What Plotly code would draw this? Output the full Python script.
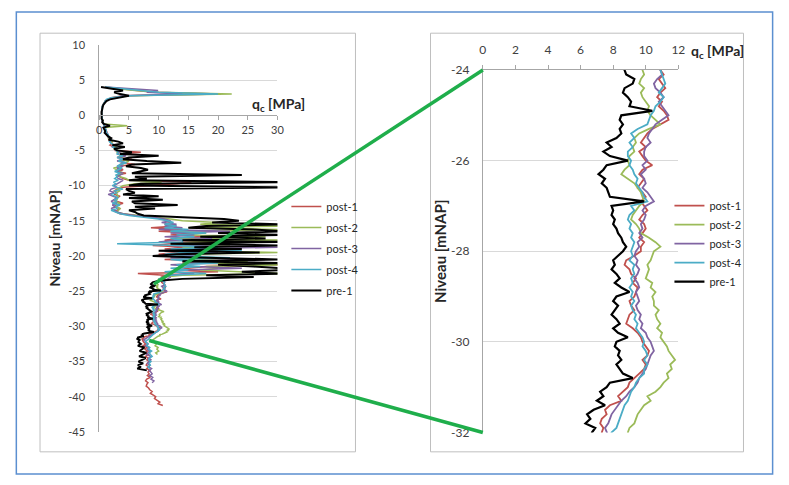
import numpy as np
import plotly.graph_objects as go

# ---------------- data ----------------
series_names = ["post-1", "post-2", "post-3", "post-4", "pre-1"]
series_colors = ["#C0504D", "#9BBB59", "#8064A2", "#4BACC6", "#000000"]

# depth sampling (m NAP)
depth_upper = np.linspace(4.0, -23.75, 112)   # 0.25 m steps
depth_zoom = np.linspace(-24.0, -32.0, 81)    # 0.1 m steps
depth_lower = np.linspace(-32.25, -41.25, 37) # 0.25 m steps

# cone resistance qc [MPa]
post1_upper = [
    1.0, 4.0, 7.0, 9.0, 20.5, 4.0, 2.0, 1.5,
    1.0, 0.8, 0.6, 0.5, 0.5, 0.4, 0.4, 0.4,
    0.4, 0.4, 0.5, 0.5, 0.6, 0.7, 0.8, 0.9,
    1.0, 1.1, 1.3, 1.2, 1.5, 1.8, 1.6, 2.0,
    2.2, 1.8, 2.5, 3.0, 2.6, 7.0, 3.5, 4.0,
    3.0, 5.5, 3.5, 4.0, 6.0, 3.0, 3.5, 4.0,
    3.0, 4.5, 3.0, 3.5, 4.0, 5.0, 15.5, 13.0,
    9.0, 4.0, 3.0, 2.5, 3.0, 2.5, 3.5, 3.0,
    2.5, 3.0, 4.0, 3.0, 2.5, 3.5, 3.0, 2.8,
    3.5, 6.0, 9.0, 10.5, 11.5, 12.0, 11.0, 13.0,
    8.7, 14.0, 10.0, 16.0, 12.0, 18.0, 13.0, 11.0,
    22.0, 12.0, 9.0, 15.0, 11.0, 20.0, 13.0, 10.0,
    12.0, 16.0, 11.0, 23.0, 14.0, 30.5, 18.0, 15.0,
    13.0, 20.0, 6.5, 11.0, 10.5, 11.0, 10.5, 10.5,
]
post2_upper = [
    1.0, 3.0, 6.0, 10.0, 22.3, 5.0, 2.5, 1.5,
    1.0, 0.8, 0.6, 0.5, 0.5, 0.4, 0.4, 0.4,
    0.4, 0.5, 0.5, 0.6, 0.6, 0.8, 4.7, 1.0,
    1.0, 1.2, 1.1, 1.4, 1.6, 1.5, 1.9, 2.2,
    2.0, 2.4, 2.8, 2.5, 3.2, 3.0, 4.0, 3.5,
    4.0, 3.5, 5.0, 4.5, 3.5, 4.0, 2.4, 3.0,
    3.5, 4.0, 3.0, 3.5, 4.5, 5.0, 10.5, 6.0,
    4.0, 3.5, 3.0, 3.5, 2.8, 3.0, 3.2, 2.8,
    3.0, 2.6, 3.4, 3.0, 2.8, 3.5, 3.2, 3.0,
    4.0, 7.0, 10.0, 12.0, 14.0, 20.0, 17.0, 31.0,
    15.0, 31.0, 12.0, 18.0, 14.0, 28.0, 13.0, 31.0,
    16.0, 12.0, 22.0, 14.0, 18.0, 11.0, 30.5, 15.0,
    13.0, 20.0, 14.0, 25.0, 16.0, 31.0, 18.0, 20.0,
    17.0, 24.0, 31.0, 14.0, 11.0, 10.0, 9.8, 9.7,
]
post3_upper = [
    1.0, 6.0, 9.9, 8.0, 14.0, 4.0, 2.5, 1.5,
    1.0, 0.8, 0.6, 0.5, 0.5, 0.4, 0.4, 0.4,
    0.4, 0.4, 0.5, 0.5, 0.6, 0.7, 0.8, 0.9,
    1.0, 1.1, 1.3, 1.5, 1.4, 1.7, 2.0, 1.8,
    2.0, 2.5, 2.2, 2.8, 3.0, 3.5, 3.0, 4.5,
    3.5, 4.0, 3.0, 4.5, 3.5, 4.0, 3.0, 3.5,
    3.0, 4.0, 3.5, 3.0, 3.2, 4.0, 3.5, 3.0,
    2.5, 3.0, 2.0, 1.8, 2.5, 1.5, 2.2, 3.0,
    2.5, 2.0, 3.0, 2.2, 2.8, 2.0, 2.6, 3.0,
    4.0, 6.0, 9.0, 11.0, 12.0, 10.5, 13.0, 11.0,
    14.0, 10.0, 22.0, 12.0, 16.0, 11.0, 19.0, 13.0,
    10.0, 16.0, 12.0, 30.5, 13.0, 11.0, 20.0, 12.0,
    17.0, 12.0, 28.0, 14.0, 19.0, 12.0, 16.0, 24.0,
    14.0, 12.0, 16.0, 11.0, 12.0, 11.5, 11.0, 11.0,
]
post4_upper = [
    1.0, 4.0, 8.0, 10.0, 20.0, 5.0, 2.0, 1.2,
    1.0, 0.8, 0.6, 0.5, 0.5, 0.4, 0.4, 0.4,
    0.4, 0.4, 0.5, 0.5, 0.6, 0.7, 0.8, 1.0,
    1.0, 1.2, 1.1, 1.5, 1.6, 1.8, 2.0, 1.7,
    2.0, 2.6, 2.3, 3.0, 2.8, 3.2, 3.0, 4.0,
    3.0, 4.0, 3.2, 4.6, 3.5, 3.0, 3.8, 3.2,
    2.6, 3.5, 2.8, 3.0, 2.6, 3.2, 2.4, 2.8,
    2.2, 3.0, 4.0, 2.5, 3.0, 2.0, 2.6, 3.2,
    2.5, 3.0, 2.2, 3.5, 2.8, 3.0, 2.0, 2.8,
    3.5, 5.0, 8.0, 10.0, 11.5, 12.5, 11.0, 13.0,
    11.0, 15.0, 12.0, 18.0, 13.0, 16.0, 12.0, 14.0,
    14.0, 3.0, 13.0, 20.0, 12.0, 24.0, 14.0, 11.0,
    13.0, 22.0, 12.0, 15.0, 20.0, 13.0, 17.0, 12.0,
    15.0, 11.0, 18.0, 12.0, 11.0, 10.0, 10.5, 11.0,
]
pre1_upper = [
    0.3, 2.5, 4.0, 2.5, 3.5, 5.0, 3.0, 1.8,
    1.2, 0.9, 0.7, 0.6, 0.5, 0.5, 0.4, 0.4,
    0.4, 0.5, 0.4, 0.6, 0.5, 0.8, 1.8, 0.7,
    0.8, 1.0, 0.9, 1.2, 1.5, 2.0, 1.6, 3.2,
    4.0, 2.2, 4.3, 2.5, 3.0, 5.5, 3.5, 10.0,
    5.0, 4.0, 8.0, 13.8, 5.5, 4.5, 7.0, 8.2,
    7.0, 5.5, 24.0, 6.0, 8.0, 5.0, 31.0, 7.0,
    5.0, 31.0, 4.5, 5.0, 6.0, 4.0, 10.0, 5.0,
    10.7, 5.5, 6.0, 13.2, 6.0, 9.4, 5.0, 6.0,
    6.5, 7.5, 14.0, 21.0, 23.5, 19.0, 31.0, 18.0,
    15.0, 26.0, 31.0, 20.0, 30.5, 17.0, 28.0, 14.0,
    30.5, 12.0, 30.5, 16.0, 24.0, 10.0, 27.0, 13.0,
    9.0, 18.0, 31.0, 14.0, 31.0, 20.0, 26.0, 31.0,
    31.0, 24.0, 30.5, 18.0, 26.0, 14.0, 10.0, 9.0,
]

post1_zoom = [
    10.9, 11.1, 10.8, 11.0, 11.2, 10.9, 10.7, 11.0, 10.8, 11.1,
    11.3, 11.4, 10.9, 10.4, 10.1, 9.9, 9.7, 10.0, 9.6, 9.8,
    10.0, 10.4, 9.8, 9.6, 9.9, 9.7, 9.5, 9.8, 10.0, 9.7,
    9.9, 10.1, 9.8, 9.6, 9.9, 10.0, 9.8, 9.6, 9.9, 9.7,
    9.7, 9.3, 8.8, 8.7, 9.0, 9.1, 9.4, 9.2, 9.5, 9.4,
    9.3, 9.0, 9.1, 9.3, 9.0, 8.9, 8.8, 9.2, 9.5, 9.7,
    9.8, 10.0, 10.2, 10.1, 9.8, 10.0, 9.9, 9.6, 9.3, 9.0,
    8.9, 8.6, 8.3, 8.5, 7.8, 7.5, 7.6, 7.3, 7.2, 7.4,
    7.3,
]
post2_zoom = [
    9.8, 9.9, 9.7, 9.6, 9.9, 9.7, 9.8, 10.0, 10.2, 10.1,
    10.3, 10.6, 10.9, 10.2, 9.6, 9.3, 9.4, 9.2, 9.3, 9.0,
    8.9, 9.0, 8.7, 8.5, 8.9, 9.3, 9.5, 9.7, 9.8, 9.9,
    9.6, 9.4, 9.2, 9.1, 9.4, 9.6, 9.7, 10.2, 10.6, 10.9,
    10.5, 10.4, 10.3, 10.1, 10.2, 10.1, 10.0, 10.4, 10.3, 10.6,
    10.4, 10.5, 10.5, 10.8, 10.6, 10.7, 10.9, 10.7, 11.0, 10.9,
    11.1, 11.3, 11.4, 11.6, 11.8, 11.5, 11.6, 11.3, 11.4, 11.1,
    10.9, 10.6, 10.1, 10.3, 9.9, 9.7, 9.5, 9.4, 9.3, 9.0,
    8.9,
]
post3_zoom = [
    10.9, 11.0, 10.7, 10.5, 10.6, 10.9, 11.1, 10.8, 11.0, 11.2,
    11.4, 11.0, 10.6, 10.4, 10.2, 10.1, 10.3, 10.0, 9.9, 9.9,
    10.1, 9.8, 10.0, 9.7, 9.9, 10.0, 9.8, 10.1, 10.3, 10.5,
    10.0, 9.8, 10.0, 9.9, 9.7, 9.8, 9.6, 9.8, 9.5, 9.6,
    9.4, 9.3, 9.5, 9.4, 9.6, 9.5, 9.3, 9.5, 9.6, 9.4,
    9.5, 9.6, 9.4, 9.5, 9.7, 9.6, 9.8, 9.7, 10.0, 10.1,
    10.3, 10.4, 10.5, 10.3, 10.2, 10.1, 10.0, 9.8, 9.6, 9.5,
    9.3, 9.0, 8.8, 8.5, 8.3, 8.1, 7.9, 7.8, 7.7, 7.5,
    7.6,
]
post4_zoom = [
    10.9, 11.0, 11.1, 11.2, 11.0, 10.8, 11.1, 10.9, 10.6, 10.5,
    10.3, 10.2, 10.1, 9.5, 9.1, 9.3, 9.0, 9.2, 8.9, 8.9,
    9.1, 9.0, 9.2, 9.3, 9.5, 9.4, 9.6, 9.8, 9.9, 10.1,
    9.1, 9.3, 9.0, 8.9, 9.1, 9.0, 9.2, 9.1, 9.3, 9.2,
    9.1, 9.2, 9.0, 9.3, 9.2, 9.3, 9.1, 9.2, 9.0, 9.2,
    9.1, 9.3, 9.1, 9.2, 9.4, 9.3, 9.5, 9.4, 9.6, 9.8,
    9.9, 9.8, 10.0, 10.1, 9.9, 10.1, 9.9, 9.9, 9.6, 9.4,
    9.3, 9.1, 9.0, 8.9, 8.7, 8.6, 8.5, 8.4, 8.3, 8.2,
    7.9,
]
pre1_zoom = [
    8.7, 8.8, 9.3, 9.2, 8.7, 8.6, 8.9, 9.1, 9.0, 10.4,
    8.5, 8.4, 8.6, 8.4, 8.5, 8.2, 7.6, 7.9, 7.4, 7.8,
    8.9, 7.6, 7.4, 7.1, 7.5, 7.3, 7.6, 7.7, 7.8, 9.9,
    7.9, 8.0, 7.9, 8.1, 8.0, 8.2, 8.3, 8.5, 8.6, 8.8,
    8.6, 8.3, 8.0, 8.1, 7.9, 8.2, 8.4, 8.1, 8.5, 9.0,
    8.2, 8.0, 8.3, 8.1, 7.9, 8.2, 8.4, 8.0, 8.3, 8.9,
    8.2, 8.1, 8.4, 8.3, 8.5, 8.2, 8.4, 8.6, 9.2, 7.8,
    7.6, 7.2, 7.4, 7.0, 7.5, 6.8, 6.4, 6.6, 6.3, 6.9,
    6.7,
]

post1_lower = [7.5, 7.8, 7.4, 8.0, 7.7, 8.1, 7.9, 8.3, 7.8, 8.2,
               8.0, 8.4, 8.1, 7.9, 8.3, 8.0, 8.5, 8.2, 8.4, 8.1,
               8.6, 8.0, 7.8, 8.2, 8.0, 7.9, 8.3, 8.5, 8.9, 8.6,
               9.1, 9.5, 9.3, 9.8, 10.2, 9.9, 10.7]
post2_lower = [9.2, 9.6, 9.4, 9.9, 9.7, 10.0, 9.5, 9.8]
post3_lower = [7.9, 8.2, 7.8, 8.4, 8.1, 8.5, 8.2, 8.0, 8.6, 8.3,
               8.7, 8.4, 8.1, 8.5, 8.3, 8.8, 8.4, 8.7, 8.9, 8.5,
               9.0, 8.7, 9.2, 8.9]
post4_lower = [7.8, 8.2, 8.0, 8.5, 8.3, 8.8, 8.4, 8.6, 8.9, 8.5,
               8.3, 8.7, 8.4, 8.6, 8.2, 8.5]
pre1_lower = [6.6, 7.0, 6.5, 7.6, 7.2, 6.8, 7.9, 7.3, 6.7, 7.8,
              7.1, 6.6, 7.4, 6.5, 7.0, 6.4, 8.0]

series_upper = [post1_upper, post2_upper, post3_upper, post4_upper, pre1_upper]
series_zoom = [post1_zoom, post2_zoom, post3_zoom, post4_zoom, pre1_zoom]
series_lower = [post1_lower, post2_lower, post3_lower, post4_lower, pre1_lower]

# axis settings
left_x_range, left_y_range = [0, 30], [-45, 10]
right_x_range, right_y_range = [0, 12], [-32, -24]
left_x_ticks = [0, 5, 10, 15, 20, 25, 30]
left_y_ticks = [10, 5, 0, -5, -10, -15, -20, -25, -30, -35, -40, -45]
right_x_ticks = [0, 2, 4, 6, 8, 10, 12]
right_y_ticks = [-24, -26, -28, -30, -32]
# zoom connector anchors: (qc on left chart, depth)
connector_left_qc = [9.2, 8.4]
connector_depth = [-24, -32]

# ---------------- layout geometry ----------------
W, H = 789, 485
def fx(p):
    return p / W
def fy(p):
    return 1 - p / H

L_XD = [fx(97.5), fx(278)]
L_YD = [fy(437.5), fy(38)]
R_XD = [fx(486), fx(684)]
R_YD = [fy(438), fy(64)]

def to_paper(v, dom, rng):
    return dom[0] + (v - rng[0]) / (rng[1] - rng[0]) * (dom[1] - dom[0])

def labels(vals):
    return [str(v) for v in vals]

FONT = "Lato"
TICK_FONT_L = dict(family=FONT, size=11, color="#404040")
TICK_FONT_R = dict(family=FONT, size=12, color="#404040")
AXIS_LINE = "#a6a6a6"
GRID = "#d9d9d9"
title_font_l = dict(family=FONT, size=14, color="#262626")
title_font_r = dict(family=FONT, size=15, color="#262626")

fig = go.Figure()

for i, name in enumerate(series_names):
    up, zm, lo = series_upper[i], series_zoom[i], series_lower[i]
    assert len(up) == len(depth_upper), (name, len(up))
    assert len(zm) == len(depth_zoom), (name, len(zm))
    q = list(up) + list(zm) + list(lo)
    d = list(depth_upper) + list(depth_zoom) + list(depth_lower[:len(lo)])
    is_pre = name.startswith("pre")
    fig.add_trace(go.Scatter(
        x=q, y=d, mode="lines", name=name,
        line=dict(color=series_colors[i], width=2.0 if is_pre else 1.5),
        xaxis="x", yaxis="y", legend="legend", legendgroup="L" + str(i),
        hoverinfo="skip"))
    fig.add_trace(go.Scatter(
        x=q, y=d, mode="lines", name=name,
        line=dict(color=series_colors[i], width=2.2 if is_pre else 1.8),
        xaxis="x2", yaxis="y2", legend="legend2",
        hoverinfo="skip"))

zero_pos = to_paper(0, L_YD, left_y_range)

fig.update_layout(
    width=W, height=H, autosize=False,
    margin=dict(l=0, r=0, t=0, b=0, pad=0),
    paper_bgcolor="white", plot_bgcolor="rgba(0,0,0,0)",
    font=dict(family=FONT, size=11, color="#404040"),
    hovermode=False,
    xaxis=dict(domain=L_XD, range=left_x_range, anchor="free", position=zero_pos,
               tickvals=left_x_ticks, ticktext=labels(left_x_ticks),
               showgrid=False, zeroline=False,
               showline=True, linecolor=AXIS_LINE, linewidth=1,
               ticks="outside", ticklen=4, tickcolor=AXIS_LINE,
               ticklabelstandoff=1, tickfont=TICK_FONT_L),
    yaxis=dict(domain=L_YD, range=left_y_range, anchor="x",
               tickvals=left_y_ticks, ticktext=labels(left_y_ticks),
               showgrid=True, gridcolor=GRID,
               zeroline=False, showline=True, linecolor=AXIS_LINE, linewidth=1,
               ticks="", ticklabelstandoff=11, tickfont=TICK_FONT_L,
               title=dict(text="<b>Niveau [mNAP]</b>", font=title_font_l, standoff=4)),
    xaxis2=dict(domain=R_XD, range=right_x_range, anchor="y2", side="top",
                tickvals=right_x_ticks, ticktext=labels(right_x_ticks),
                showgrid=False, zeroline=False,
                showline=True, linecolor=AXIS_LINE, linewidth=1,
                ticks="outside", ticklen=4, tickcolor=AXIS_LINE,
                ticklabelstandoff=6, tickfont=TICK_FONT_R),
    yaxis2=dict(domain=R_YD, range=right_y_range, anchor="x2",
                tickvals=right_y_ticks, ticktext=labels(right_y_ticks),
                showgrid=True, gridcolor=GRID,
                zeroline=False, showline=True, linecolor=AXIS_LINE, linewidth=1,
                ticks="", ticklabelstandoff=10, tickfont=TICK_FONT_R,
                title=dict(text="<b>Niveau [mNAP]</b>", font=title_font_r, standoff=0)),
    legend=dict(x=fx(287), y=fy(190), xanchor="left", yanchor="top",
                bgcolor="rgba(0,0,0,0)", borderwidth=0, tracegroupgap=2,
                font=dict(family=FONT, size=11, color="#262626")),
    legend2=dict(x=fx(675), y=fy(189), xanchor="left", yanchor="top",
                 bgcolor="rgba(0,0,0,0)", borderwidth=0,
                 font=dict(family=FONT, size=11, color="#262626")),
)

annotations = [
    dict(text="<b>q<sub>c</sub> [MPa]</b>", x=fx(279), y=fy(100), font=title_font_l),
    dict(text="<b>q<sub>c</sub> [MPa]</b>", x=fx(724), y=fy(45),
         font=dict(family=FONT, size=14, color="#262626")),
]
for a in annotations:
    fig.add_annotation(xref="paper", yref="paper", showarrow=False,
                       xanchor="center", yanchor="middle", **a)

# frames
shapes = [
    dict(type="rect", x0=fx(13.5), x1=fx(779.5), y0=fy(4), y1=fy(481),
         line=dict(color="#5b8fd0", width=1.5), layer="below"),
    dict(type="rect", x0=fx(37.5), x1=fx(357), y0=fy(26), y1=fy(458),
         line=dict(color="#bfbfbf", width=1), layer="below"),
    dict(type="rect", x0=fx(433), x1=fx(750), y0=fy(26), y1=fy(458),
         line=dict(color="#bfbfbf", width=1), layer="below"),
]
for s in shapes:
    fig.add_shape(xref="paper", yref="paper", **s)

# zoom connector lines (left data point -> right axis origin at same depth)
for qc, dep in zip(connector_left_qc, connector_depth):
    fig.add_shape(type="line", xref="paper", yref="paper",
                  x0=to_paper(qc, L_XD, left_x_range), y0=to_paper(dep, L_YD, left_y_range),
                  x1=to_paper(right_x_range[0], R_XD, right_x_range),
                  y1=to_paper(dep, R_YD, right_y_range),
                  line=dict(color="#1fae4b", width=3.5), layer="above")

page_fix = (
    "document.documentElement.style.margin='0';"
    "document.documentElement.style.overflow='hidden';"
    "document.body.style.margin='0';"
    "document.body.style.padding='0';"
    "document.body.style.overflow='hidden';"
)
fig.write_html("out.html", post_script=page_fix,
               config={"displayModeBar": False, "staticPlot": True})
